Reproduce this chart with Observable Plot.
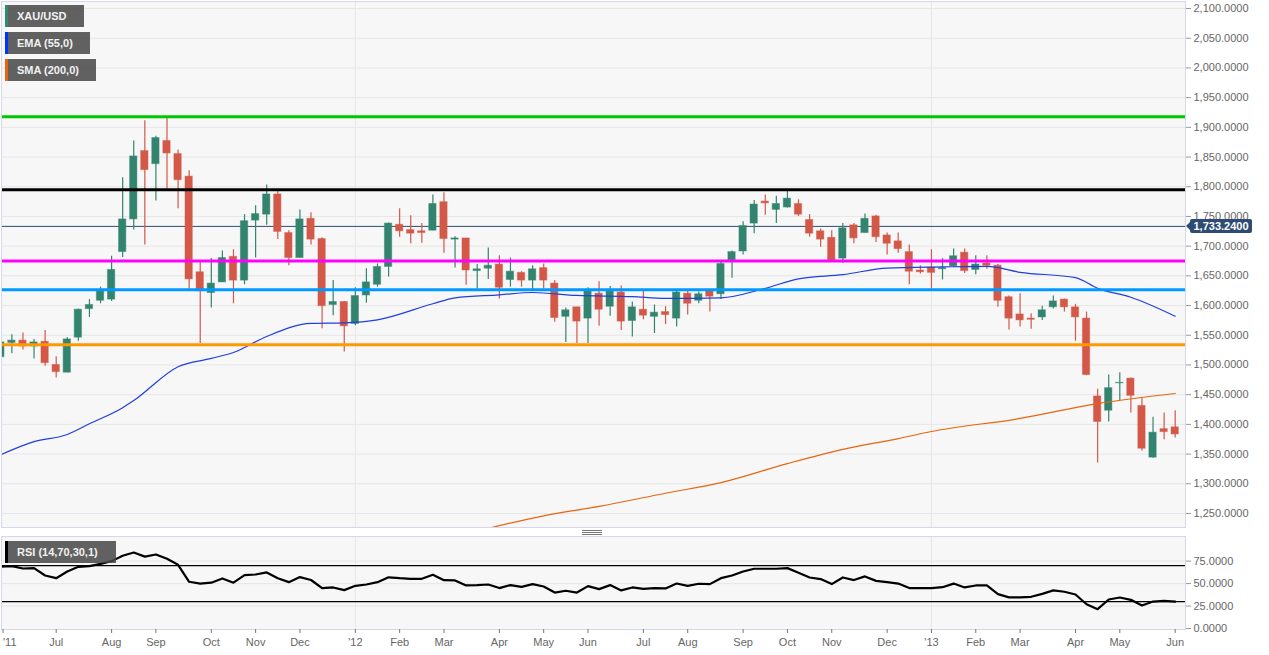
<!DOCTYPE html>
<html><head><meta charset="utf-8">
<script src="https://cdn.jsdelivr.net/npm/d3@7"></script>
<script src="https://cdn.jsdelivr.net/npm/@observablehq/plot@0.6"></script>
<style>
html,body{margin:0;padding:0;background:#fff;overflow:hidden}
#root{position:relative;width:1269px;height:655px;font-family:"Liberation Sans",Arial,sans-serif}
#root svg{position:absolute;left:0;background:transparent}
.badge{position:absolute;left:5px;height:22px;line-height:22px;background:rgba(70,70,70,.85);color:#f2f2f2;font-size:11px;font-weight:700;padding-left:9px;box-sizing:border-box;border-left:3px solid #000;white-space:nowrap}
#handle{position:absolute;left:582px;top:530px;width:20px;height:5px;background:repeating-linear-gradient(#777 0 1px,transparent 1px 2px)}
#tag{position:absolute;left:1190px;top:219px;width:62px;height:14px;line-height:14px;background:#2d4b73;color:#fff;font-size:11px;font-weight:700;text-align:center;border-radius:2px}
#tag:before{content:"";position:absolute;left:-4px;top:3px;border-right:4px solid #2d4b73;border-top:4px solid transparent;border-bottom:4px solid transparent}
</style></head><body><div id="root"></div>
<script>
const open=[1513,1537,1541,1531,1539,1500,1487,1546,1594,1608,1610,1690,1745,1860,1838,1877,1855,1817,1656,1621,1639,1682,1642,1743,1753,1787,1722,1680,1746,1712,1601,1606,1569,1617,1635,1665,1736,1727,1725,1726,1774,1711,1713,1658,1662,1669,1643,1655,1642,1663,1637,1581,1597,1578,1620,1598,1622,1574,1593,1581,1589,1578,1620,1608,1624,1619,1676,1691,1738,1775,1761,1765,1771,1744,1725,1714,1679,1735,1722,1750,1718,1708,1690,1659,1664,1661,1666,1689,1660,1671,1667,1614,1585,1578,1580,1597,1610,1597,1578,1447,1423,1469,1477,1431,1344,1392,1395];
const close=[1538,1541,1531,1538,1503,1488,1543,1593,1601,1625,1660,1745,1851,1828,1882,1856,1811,1644,1624,1637,1680,1642,1742,1754,1787,1724,1680,1745,1711,1599,1606,1565,1616,1639,1665,1738,1725,1721,1722,1771,1712,1713,1659,1661,1667,1630,1657,1642,1661,1642,1579,1592,1573,1625,1593,1624,1573,1597,1583,1588,1584,1622,1603,1619,1615,1670,1690,1734,1770,1772,1771,1780,1753,1721,1711,1676,1730,1713,1746,1715,1704,1695,1657,1656,1655,1663,1683,1658,1669,1667,1608,1578,1575,1576,1592,1607,1597,1580,1483,1404,1461,1470,1448,1359,1386,1387,1383];
const high=[1538,1551,1554,1543,1558,1514,1546,1594,1610,1631,1683,1815,1877,1911,1885,1917,1862,1827,1675,1679,1692,1694,1753,1768,1803,1793,1726,1761,1756,1714,1642,1607,1630,1662,1670,1739,1763,1751,1738,1786,1790,1716,1713,1669,1697,1684,1680,1657,1667,1670,1642,1596,1597,1630,1640,1632,1633,1606,1624,1601,1598,1624,1624,1623,1625,1673,1692,1741,1777,1786,1784,1792,1778,1753,1729,1726,1738,1738,1754,1752,1722,1722,1702,1667,1694,1679,1695,1695,1684,1684,1669,1616,1620,1586,1599,1616,1611,1602,1589,1459,1483,1487,1478,1443,1412,1419,1423];
const low=[1504,1519,1525,1510,1498,1478,1487,1540,1580,1603,1607,1681,1727,1702,1776,1796,1763,1628,1536,1596,1639,1603,1635,1680,1735,1711,1667,1680,1702,1561,1583,1522,1566,1604,1631,1648,1715,1704,1705,1726,1688,1663,1634,1628,1644,1611,1631,1631,1625,1628,1572,1538,1536,1536,1565,1582,1558,1547,1576,1553,1568,1564,1584,1603,1589,1610,1646,1685,1721,1752,1738,1764,1750,1715,1698,1676,1671,1704,1722,1706,1685,1688,1635,1653,1628,1643,1665,1654,1652,1661,1597,1559,1564,1560,1575,1594,1589,1540,1482,1335,1404,1440,1419,1355,1343,1374,1377];
const emaIndex=[0,3,6,8,11,12,16,19,21,24,28,31,34,39,41,45,48,52,57,60,65,69,72,76,80,85,89,92,97,99,102,106];
const emaValue=[1349,1371,1383,1401,1428,1440,1497,1511,1521,1548,1570,1571,1576,1603,1613,1618,1622,1617,1615,1612,1613,1629,1645,1652,1663,1665,1666,1656,1647,1629,1614,1582];
const smaIndex=[44,49,54,60,65,71,76,81,84,92,99,106];
const smaValue=[1225,1246,1262,1284,1302,1334,1358,1376,1388,1410,1435,1452];
const rsiValue=[68.7,69.4,66.8,67.2,59,56,63.5,68.7,69.4,72,75,81,84.6,80,82.4,77.6,70.9,52,50,51,55.7,51,59.4,60.1,62.4,56,51.6,57.2,54,44.9,45.7,42.7,47.5,49,51.6,57,56,55.3,55.3,59.8,53.8,53.5,47.9,48.3,49,45,48.3,46.4,49.4,46.8,40,42,40,47.2,43.8,48.3,42.4,45.7,44.2,45,44.6,50.1,47.5,49.8,49.4,56,59,63.5,66.5,66.5,66.5,67.2,62,56.8,55,49.4,56.8,53.9,58,53,51.6,50,45,45,45,46,50,45.7,47.9,47.9,38.3,34.6,34.6,35.3,38.6,42.4,40.9,37.9,27,21.5,32.3,34.5,31.9,25.6,30,30.8,30];
const levels=[1918,1795,1675,1626.5,1534];
const levelColors=["#00c800","#000000","#ff00ff","#0099ff","#ff9900"];
const lastPrice=1733.24;
const priceTicks=d3.range(1250,2101,50);
const rsiTicks=[0,25,50,75];
const rsiBands=[70,30];
const monthIndex=[5,10,14,19,23,27,32,36,40,45,49,53,58,62,67,71,75,80,84,88,92,97,101,106];
const monthLabels=["Jul","Aug","Sep","Oct","Nov","Dec","'12","Feb","Mar","Apr","May","Jun","Jul","Aug","Sep","Oct","Nov","Dec","'13","Feb","Mar","Apr","May","Jun"];
const yearGrid=[32,84];
const legendItems=[["XAU/USD","#2e8b6e",5,79],["EMA (55,0)","#0033ff",32,85],["SMA (200,0)","#e8650f",59,91]];

const UP="#33846f",DOWN="#d35848",GRID="#e6e6e6",BORDER="#d3d8ea",TXT="#666";
const candles=open.map((o,i)=>({i,o,c:close[i],h:high[i],l:low[i],col:close[i]>=o?UP:DOWN}));
const ema=emaIndex.map((i,k)=>({i,v:emaValue[k]}));
const sma=smaIndex.map((i,k)=>({i,v:smaValue[k]}));
const rsi=rsiValue.map((v,i)=>({i,v}));
const xDomain=[0.063,106.93];
const numFont={fontFamily:'"Liberation Sans",Arial,sans-serif',fontSize:"11px",background:"transparent",overflow:"visible"};

const main=Plot.plot({
  width:1269,height:535,marginTop:1,marginBottom:8,marginLeft:1,marginRight:84,
  style:numFont,
  x:{domain:xDomain,axis:null},
  y:{domain:[1226.4,2111.8]},
  marks:[
    Plot.frame({fill:"#f7f7f7",stroke:null}),
    Plot.ruleY(priceTicks,{stroke:GRID}),
    Plot.ruleX(yearGrid,{stroke:GRID}),
    Plot.ruleY([lastPrice],{stroke:"#2d4b73",strokeWidth:1}),
    Plot.ruleX(candles,{x:"i",y1:"l",y2:"h",stroke:"col",strokeWidth:1.2,clip:true}),
    Plot.rect(candles,{x1:d=>d.i-.33,x2:d=>d.i+.33,y1:"o",y2:"c",fill:"col",stroke:"col",strokeOpacity:.45,strokeWidth:1,clip:true}),
    Plot.line(sma,{x:"i",y:"v",stroke:"#e8650f",strokeWidth:1.2,curve:"monotone-x",clip:true}),
    Plot.line(ema,{x:"i",y:"v",stroke:"#1f3fe0",strokeWidth:1.2,curve:"monotone-x",clip:true}),
    Plot.ruleY(levels.map((v,k)=>({v,c:levelColors[k]})),{y:"v",stroke:"c",strokeWidth:3}),
    Plot.frame({stroke:BORDER}),
    Plot.axisY(priceTicks,{anchor:"right",tickSize:5,tickPadding:3,stroke:"#999",fill:TXT,label:null,tickFormat:d3.format(",.4f")})
  ]
});
const lower=Plot.plot({
  width:1269,height:125,marginTop:6,marginBottom:26,marginLeft:1,marginRight:84,
  style:numFont,
  x:{domain:xDomain},
  y:{domain:[-1.1,102.4]},
  marks:[
    Plot.frame({fill:"#f7f7f7",stroke:null}),
    Plot.ruleY([25,50,75],{stroke:GRID}),
    Plot.ruleX(yearGrid,{stroke:GRID}),
    Plot.ruleY(rsiBands,{stroke:"#000",strokeWidth:1.2}),
    Plot.line(rsi,{x:"i",y:"v",stroke:"#000",strokeWidth:2.2,clip:true}),
    Plot.frame({stroke:BORDER}),
    Plot.axisY(rsiTicks,{anchor:"right",tickSize:5,tickPadding:3,stroke:"#999",fill:TXT,label:null,tickFormat:d3.format(".4f")}),
    Plot.axisX(monthIndex,{tickSize:4,tickPadding:5,stroke:"#777",fill:TXT,label:null,tickFormat:d=>monthLabels[monthIndex.indexOf(d)]}),
    Plot.axisX([0.2],{tickSize:4,tickPadding:5,stroke:"#777",fill:TXT,label:null,textAnchor:"start",tickFormat:()=>"'11"})
  ]
});
main.style.top="0px";lower.style.top="530px";
const root=document.getElementById("root");
root.append(main,lower);
for(const [t,c,y,w] of legendItems){
  const b=document.createElement("div");b.className="badge";b.textContent=t;
  b.style.top=y+"px";b.style.width=w+"px";b.style.borderLeftColor=c;root.append(b);
}
const r=document.createElement("div");r.className="badge";r.textContent="RSI (14,70,30,1)";
r.style.top="541px";r.style.width="111px";root.append(r);
const h=document.createElement("div");h.id="handle";root.append(h);
const tag=document.createElement("div");tag.id="tag";tag.textContent=d3.format(",.4f")(lastPrice);root.append(tag);
</script></body></html>
